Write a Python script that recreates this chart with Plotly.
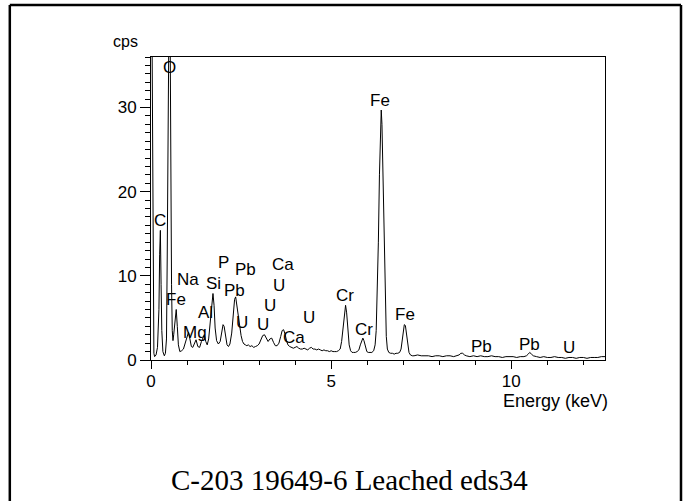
import plotly.graph_objects as go

# EDS spectrum: energy channels (keV) and count rate (cps)
energy_kev = [
    0.00, 0.02, 0.04, 0.06, 0.08, 0.10, 0.14, 0.18, 0.20, 0.22, 0.24, 0.26, 0.28, 0.30,
    0.33, 0.37, 0.40, 0.43, 0.45, 0.47, 0.49, 0.51, 0.53, 0.55, 0.57, 0.59, 0.61, 0.63,
    0.66, 0.70, 0.73, 0.76, 0.80, 0.85, 0.90, 0.95, 1.00, 1.04, 1.08, 1.12, 1.16, 1.20,
    1.25, 1.30, 1.35, 1.40, 1.44, 1.48, 1.52, 1.56, 1.60, 1.64, 1.68, 1.72, 1.75, 1.78,
    1.82, 1.87, 1.92, 1.96, 2.00, 2.03, 2.07, 2.11, 2.15, 2.19, 2.24, 2.28, 2.32, 2.35,
    2.38, 2.41, 2.44, 2.47, 2.50, 2.54, 2.58, 2.62, 2.66, 2.70, 2.75, 2.80, 2.85, 2.90,
    2.95, 3.00, 3.05, 3.10, 3.15, 3.20, 3.25, 3.30, 3.35, 3.40, 3.45, 3.50, 3.55, 3.60,
    3.64, 3.68, 3.72, 3.76, 3.80, 3.85, 3.90, 3.95, 4.00, 4.05, 4.10, 4.15, 4.20, 4.25,
    4.30, 4.35, 4.40, 4.45, 4.50, 4.55, 4.60, 4.65, 4.70, 4.75, 4.80, 4.85, 4.90, 4.95,
    5.00, 5.05, 5.10, 5.15, 5.20, 5.25, 5.29, 5.33, 5.37, 5.40, 5.43, 5.46, 5.50, 5.54,
    5.58, 5.62, 5.67, 5.72, 5.77, 5.81, 5.85, 5.88, 5.91, 5.95, 5.99, 6.03, 6.08, 6.13,
    6.18, 6.22, 6.25, 6.28, 6.31, 6.34, 6.37, 6.39, 6.41, 6.44, 6.47, 6.50, 6.53, 6.56,
    6.60, 6.65, 6.70, 6.75, 6.80, 6.85, 6.90, 6.94, 6.97, 7.00, 7.03, 7.06, 7.09, 7.12,
    7.16, 7.20, 7.25, 7.30, 7.40, 7.50, 7.60, 7.70, 7.80, 7.90, 8.00, 8.10, 8.20, 8.30,
    8.40, 8.50, 8.55, 8.60, 8.65, 8.70, 8.75, 8.85, 8.95, 9.05, 9.15, 9.25, 9.35, 9.45,
    9.55, 9.65, 9.75, 9.85, 9.95, 10.05, 10.15, 10.25, 10.35, 10.42, 10.47, 10.51, 10.56,
    10.61, 10.70, 10.80, 10.90, 11.00, 11.10, 11.20, 11.30, 11.40, 11.50, 11.60, 11.70,
    11.80, 11.90, 12.00, 12.10, 12.20, 12.30, 12.40, 12.50, 12.60,
]
counts_cps = [
    60.0, 45.0, 24.0, 5.0, 0.8, 0.4, 0.6, 1.5, 3.0, 6.0, 12.5, 15.4, 9.0, 3.5,
    1.0, 0.5, 0.8, 2.5, 12.0, 24.0, 40.0, 48.0, 40.0, 21.0, 9.0, 3.5, 2.3, 3.0,
    4.5, 6.0, 4.0, 1.8, 1.0, 1.1, 1.3, 2.0, 2.8, 3.3, 2.5, 1.6, 1.5, 2.0,
    2.4, 1.6, 1.5, 2.2, 2.7, 3.0, 2.2, 1.8, 2.5, 4.5, 6.8, 7.9, 6.5, 3.8,
    2.3, 1.9, 2.2, 3.2, 4.2, 4.0, 2.6, 1.8, 1.6, 1.9, 3.2, 5.5, 7.2, 7.5,
    6.6, 5.3, 4.8, 3.8, 2.9, 2.2, 1.9, 1.8, 1.7, 1.8, 1.6, 1.7, 1.5, 1.6,
    1.7, 1.9, 2.4, 2.9, 3.0, 2.6, 2.2, 2.5, 2.6, 2.1, 1.7, 1.7, 2.0, 2.8,
    3.5, 3.6, 3.1, 2.3, 1.8, 1.6, 1.5, 1.4, 1.5, 1.6, 1.4, 1.3, 1.3, 1.4,
    1.3, 1.2, 1.4, 1.5, 1.3, 1.3, 1.2, 1.3, 1.2, 1.1, 1.2, 1.1, 1.1, 1.0,
    1.1, 1.0, 1.0, 1.0, 1.1, 1.3, 2.2, 4.0, 6.0, 6.5, 5.6, 3.6, 1.8, 1.1,
    0.9, 0.9, 0.9, 1.0, 1.2, 1.8, 2.4, 2.6, 2.3, 1.5, 1.0, 0.9, 0.9, 0.9,
    1.1, 1.8, 3.5, 7.5, 14.0, 22.0, 28.0, 29.7, 28.0, 21.0, 13.0, 6.5, 2.8, 1.3,
    0.9, 0.8, 0.8, 0.7, 0.8, 0.8, 0.9, 1.3, 2.4, 3.6, 4.2, 4.1, 3.2, 1.8,
    0.9, 0.6, 0.5, 0.5, 0.6, 0.5, 0.5, 0.5, 0.4, 0.5, 0.5, 0.4, 0.5, 0.5,
    0.4, 0.5, 0.6, 0.8, 0.8, 0.6, 0.5, 0.4, 0.5, 0.4, 0.5, 0.4, 0.4, 0.5,
    0.4, 0.4, 0.3, 0.4, 0.4, 0.4, 0.3, 0.4, 0.4, 0.5, 0.7, 0.9, 0.7,
    0.5, 0.4, 0.3, 0.4, 0.3, 0.3, 0.4, 0.3, 0.3, 0.2, 0.3, 0.3,
    0.2, 0.3, 0.3, 0.2, 0.3, 0.3, 0.3, 0.4, 0.4,
]

# Element line labels: text, energy (keV), height (cps)
label_text = ["O", "C", "Fe", "Na", "Mg", "Al", "Si", "P", "Pb", "Pb", "U", "U", "U", "U",
              "Ca", "Ca", "U", "Cr", "Cr", "Fe", "Fe", "Pb", "Pb", "U"]
label_kev = [0.51, 0.25, 0.69, 1.04, 1.22, 1.50, 1.73, 2.01, 2.61, 2.33, 2.52, 3.12, 3.31,
             3.54, 3.66, 3.98, 4.39, 5.39, 5.90, 6.36, 7.06, 9.16, 10.51, 11.59]
label_cps = [34.7, 16.6, 7.2, 9.6, 3.25, 5.6, 9.1, 11.6, 10.8, 8.3, 4.4, 4.2, 6.5,
             8.9, 11.3, 2.7, 5.0, 7.7, 3.6, 30.8, 5.4, 1.66, 1.86, 1.5]

x_ticks = [0, 5, 10]
y_ticks = [0, 10, 20, 30]

title_text = "C-203 19649-6 Leached eds34"

SANS = "Liberation Sans, Arial, sans-serif"
SERIF = "Liberation Serif, Times New Roman, serif"

fig = go.Figure()
fig.add_trace(go.Scatter(
    x=energy_kev, y=counts_cps, mode="lines",
    line=dict(color="black", width=1), hoverinfo="skip", showlegend=False,
))

for t, ex, cy in zip(label_text, label_kev, label_cps):
    fig.add_annotation(x=ex, y=cy, xref="x", yref="y", text=t, showarrow=False,
                       xanchor="center", yanchor="middle",
                       font=dict(family=SANS, size=17, color="black"))

fig.add_annotation(x=-0.057, y=1.05, xref="paper", yref="paper", text="cps",
                   xanchor="center", yanchor="middle", showarrow=False,
                   font=dict(family=SANS, size=16, color="black"))
fig.add_annotation(x=0.771, y=-0.134, xref="paper", yref="paper", text="Energy (keV)",
                   xanchor="left", yanchor="middle", showarrow=False,
                   font=dict(family=SANS, size=18, color="black"))
fig.add_annotation(x=0.438, y=-0.396, xref="paper", yref="paper", text=title_text,
                   xanchor="center", yanchor="middle", showarrow=False,
                   font=dict(family=SERIF, size=29, color="black"))

# outer frame around the figure (top, left, right edges)
frame = dict(type="line", xref="paper", yref="paper", line=dict(color="black", width=2.5))
fig.add_shape(**frame, x0=-0.311, y0=1.172, x1=1.1674, y1=1.172)
fig.add_shape(**frame, x0=-0.311, y0=1.172, x1=-0.311, y1=-0.5)
fig.add_shape(**frame, x0=1.1674, y0=1.172, x1=1.1674, y1=-0.5)

fig.update_xaxes(
    range=[0, 12.6], tickvals=x_ticks, ticktext=[str(v) for v in x_ticks],
    ticks="outside", ticklen=8, tickcolor="black", tickwidth=1,
    minor=dict(ticks="outside", ticklen=4, dtick=1, tick0=0, tickcolor="black", showgrid=False),
    showline=True, linecolor="black", linewidth=1, mirror=True,
    showgrid=False, zeroline=False, ticklabelstandoff=-2,
    tickfont=dict(family=SANS, size=17, color="black"),
)
fig.update_yaxes(
    range=[0, 36], tickvals=y_ticks, ticktext=[str(v) for v in y_ticks],
    ticks="outside", ticklen=10, tickcolor="black", tickwidth=1,
    minor=dict(ticks="outside", ticklen=5, dtick=1, tick0=0, tickcolor="black", showgrid=False),
    showline=True, linecolor="black", linewidth=1, mirror=True,
    showgrid=False, zeroline=False,
    tickfont=dict(family=SANS, size=17, color="black"),
)

fig.update_layout(
    width=683, height=501,
    margin=dict(l=151, r=78, t=57, b=141),
    paper_bgcolor="white", plot_bgcolor="white",
    showlegend=False,
)

fig.write_html("out.html")
